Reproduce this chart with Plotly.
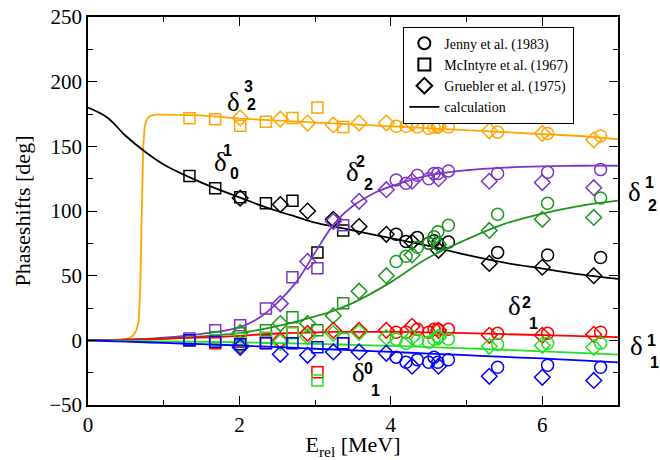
import plotly.graph_objects as go

# ---------------- data ----------------
E_jenny = [4.07, 4.20, 4.35, 4.50, 4.57, 4.62, 4.76, 5.41, 6.07, 6.77]
E_mcint = [1.34, 1.68, 2.01, 2.35, 2.70, 3.03, 3.37]
E_grueb = [2.01, 2.54, 2.90, 3.24, 3.58, 3.94, 4.28, 4.63, 5.30, 6.00, 6.68]

# delta^3_2 (orange)
d32_jenny = [165.5, 165.5, 165, 164, 165, 165, 165, 161, 160, 158]
d32_mcint = [171.7, 171, 166, 169, 172, 180, 165]
d32_grueb = [172, 171, 168, 166.5, 168, 168, 168, 166, 162, 160, 155]
# delta^1_0 (black)
d10_jenny = [82, 76.5, 79.6, 75, 77, 75, 76, 68, 66, 64]
d10_mcint = [127, 117.5, 110.6, 106, 108, 68, 85]
d10_grueb = [110, 105, 100, 93.6, 88, 82, 76, 69.6, 59.5, 56.5, 50]
# delta^2_2 (purple)
d22_jenny = [124, 121.5, 127.6, 125, 129, 129, 131, 129, 130, 132]
d22_mcint = [1.5, 7.7, 11.6, 24.7, 48.7, 55.7, 89]
d22_grueb = [None, 28.4, 61, 92, 107.5, 116.5, 123, 125, 123, 122, 118]
# delta^1_2 (dark green)
d12_jenny = [61, 65, 72, 75, 80, 84, 89, 97.5, 106, 110]
d12_mcint = [0, 2.3, 5.4, 7.7, 17.8, 7.7, 28.6]
d12_grueb = [6, 13, 13, 19, 38, 50, 66, 74, 85, 93.6, 95]
# delta^2_1 (red)
d21_jenny = [6.2, 6.2, 8.5, 6.2, 8.5, 8.5, 8.5, 5.4, 5.4, 6.2]
d21_mcint = [0, -2.3, -1, -2, 6, -24.6, -2.3]
d21_grueb = [-4, 0, 5.4, 7.7, 7.7, 7.7, 10.8, 7.7, 3.9, 3.9, 4.6]
# delta^1_1 (light green)
d11_jenny = [0.8, -2.3, 0, -1.5, 0.8, 3, 0.8, -3, -2.3, -2.3]
d11_mcint = [0, 0, 1, 2, 5.4, -31, 1]
d11_grueb = [-3, -1.5, 3, 5.4, 6.2, 2.3, 2.3, 2.3, -4.6, -3.9, -5.4]
# delta^0_1 (blue)
d01_jenny = [-13, -17, -15, -17, -13, -17, -15, -20.8, -19.3, -20.8]
d01_mcint = [0, -1, -3, -2.3, -2.3, -5.4, -2.3]
d01_grueb = [-5.4, -10.8, -11.6, -9, -9, -10, -20, -20, -27.8, -28.6, -31]

# calculated curves (sampled)
E_calc = [0, 0.25, 0.5, 0.75, 1.0, 1.5, 2.0, 2.25, 2.5, 2.75, 3.0, 3.25, 3.5,
          3.75, 4.0, 4.5, 5.0, 5.5, 6.0, 6.5, 7.0]
c10 = [180, 172.5, 158, 146, 136, 122, 110.5, 105, 100, 95.5, 91, 88, 85,
       82, 79, 73, 66, 60, 55.5, 51, 47.5]
c22 = [0, 0.2, 0.5, 1.2, 2, 5, 10, 17, 29, 45, 68, 90, 104,
       113, 119, 127.5, 131.5, 133.5, 134.5, 135, 135]
c12 = [0, 0.3, 0.6, 1.0, 1.3, 3, 5.5, 8, 11, 14.5, 18.5, 23, 29,
       36.5, 45, 64, 78, 90, 98, 104, 108]
c21 = [0, 0.2, 0.5, 0.8, 1.2, 2.2, 3.5, 4.5, 5.3, 5.8, 6.2, 6.5, 6.6,
       6.6, 6.5, 6.2, 5.5, 4.8, 4.0, 3.2, 2.5]
c11 = [0, -0.2, -0.4, -0.6, -0.8, -1.1, -1.5, -1.8, -2.1, -2.4, -2.7, -3.1, -3.5,
       -3.9, -4.3, -5.2, -6.2, -7.3, -8.5, -9.7, -11]
c01 = [0, -0.5, -1.0, -1.5, -2, -3, -4, -4.6, -5.2, -5.8, -6.5, -7.1, -7.7,
       -8.3, -9, -10.2, -11.5, -12.8, -14, -15.5, -17]
E_c32 = [0, 0.4, 0.5, 0.55, 0.6, 0.64, 0.67, 0.69, 0.71, 0.73, 0.75, 0.78, 0.82,
         0.9, 1.0, 1.5, 2.0, 2.5, 3.0, 3.5, 4.0, 4.5, 5.0, 5.5, 6.0, 6.5, 7.0]
c32 = [0, 0.3, 1, 2, 4, 8, 15, 40, 100, 150, 166, 171, 173.5,
       174.5, 174.5, 174, 171.5, 170, 168.5, 167, 166, 164.5, 163, 161.5, 160, 158, 155.5]

series = [
    ("#FFA500", d32_jenny, d32_mcint, d32_grueb, E_c32, c32, "linear"),
    ("#000000", d10_jenny, d10_mcint, d10_grueb, E_calc, c10, "spline"),
    ("#7B35C8", d22_jenny, d22_mcint, d22_grueb, E_calc, c22, "spline"),
    ("#1E961E", d12_jenny, d12_mcint, d12_grueb, E_calc, c12, "spline"),
    ("#FF0000", d21_jenny, d21_mcint, d21_grueb, E_calc, c21, "spline"),
    ("#22E022", d11_jenny, d11_mcint, d11_grueb, E_calc, c11, "spline"),
    ("#0000FF", d01_jenny, d01_mcint, d01_grueb, E_calc, c01, "spline"),
]

legend_names = ["Jenny et al. (1983)", "McIntyre et al. (1967)",
                "Gruebler et al. (1975)", "calculation"]

X_MAX, Y_MIN, Y_MAX = 7.0, -50.0, 250.0

fig = go.Figure()
SERIF = "Liberation Serif, Times New Roman, Times, serif"
SANS = "Liberation Sans, Arial, Helvetica, sans-serif"

for col, dj, dm, dg, ex, cy, shape in series:
    fig.add_trace(go.Scatter(x=ex, y=cy, mode="lines", line=dict(color=col, width=1.8, shape=shape),
                             showlegend=False, hoverinfo="skip"))
    for xs, ys, sym, sz in [(E_mcint, dm, "square-open", 11), (E_grueb, dg, "diamond-open", 12),
                            (E_jenny, dj, "circle-open", 12)]:
        fig.add_trace(go.Scatter(x=xs, y=ys, mode="markers", showlegend=False,
                                 marker=dict(symbol=sym, size=sz, color=col,
                                             line=dict(color=col, width=1.5))))

# legend proxies
for name, sym in zip(legend_names[:3], ["circle-open", "square-open", "diamond-open"]):
    fig.add_trace(go.Scatter(x=[None], y=[None], mode="markers", name=name,
                             marker=dict(symbol=sym, size=12, color="black",
                                         line=dict(color="black", width=2))))
fig.add_trace(go.Scatter(x=[None], y=[None], mode="lines", name=legend_names[3],
                         line=dict(color="black", width=1.8)))

# curve labels in data units: (delta x, y, sup, sub, sup x, y, sub x, y)
labels = [
    (1.81, 197.2, "3", "2", 2.034, 204.7, 2.074, 190.7),
    (1.637, 137.7, "1", "0", 1.756, 147, 1.85, 129),
    (3.487, 130.0, "2", "2", 3.593, 138.4, 3.699, 120.6),
    (7.33, 114.7, "1", "2", 7.50, 121.7, 7.54, 104.4),
    (5.746, 13.1, "2", "1", 5.876, 20.8, 5.976, 4.6),
    (7.35, -17.8, "1", "1", 7.53, -8.5, 7.57, -25.5),
    (3.567, -38.7, "0", "1", 3.70, -30.1, 3.80, -47.1),
]


def px(x):
    return x / X_MAX


def py(y):
    return (y - Y_MIN) / (Y_MAX - Y_MIN)


for dx, dy, sp, sb, sx, sy, bx, by in labels:
    fig.add_annotation(x=px(dx), y=py(dy), xref="paper", yref="paper", text="δ", showarrow=False,
                       font=dict(family=SERIF, size=27, color="black"))
    fig.add_annotation(x=px(sx), y=py(sy), xref="paper", yref="paper", text="<b>%s</b>" % sp,
                       showarrow=False, font=dict(family=SANS, size=16, color="black"))
    fig.add_annotation(x=px(bx), y=py(by), xref="paper", yref="paper", text="<b>%s</b>" % sb,
                       showarrow=False, font=dict(family=SANS, size=16, color="black"))

axis_common = dict(showline=True, linecolor="black", linewidth=1.5, mirror="ticks",
                   ticks="inside", ticklen=9, tickwidth=1.3, tickcolor="black",
                   showgrid=False, zeroline=False, automargin=False,
                   tickfont=dict(family=SERIF, size=21, color="black"))

fig.update_xaxes(range=[0, X_MAX], tick0=0, dtick=2,
                 minor=dict(ticks="inside", ticklen=5, dtick=1, tickcolor="black", tickwidth=1.2),
                 title=dict(text="E<sub>rel</sub> [MeV]", font=dict(family=SERIF, size=22, color="black"),
                            standoff=0),
                 **axis_common)
fig.update_yaxes(range=[Y_MIN, Y_MAX], tick0=-50, dtick=50,
                 minor=dict(ticks="inside", ticklen=5, dtick=25, tickcolor="black", tickwidth=1.2),
                 title=dict(text="Phaseshifts [deg]", font=dict(family=SERIF, size=22, color="black"),
                            standoff=13),
                 **axis_common)

fig.update_layout(
    width=660, height=460,
    margin=dict(l=88, r=42, t=17, b=55),
    plot_bgcolor="white", paper_bgcolor="white",
    legend=dict(x=0.595, y=0.975, xanchor="left", yanchor="top",
                bgcolor="white", bordercolor="black", borderwidth=1,
                font=dict(family=SERIF, size=14, color="black"),
                tracegroupgap=0, itemwidth=30),
)

fig.write_html("out.html", config={"displayModeBar": False},
               post_script="document.body.style.margin='0px';")
